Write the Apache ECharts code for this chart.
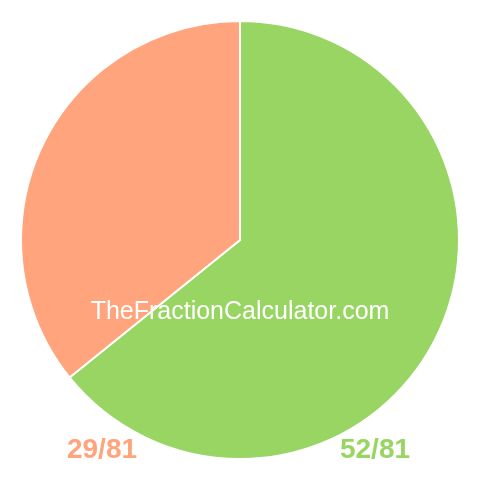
<!DOCTYPE html>
<html>
<head>
<meta charset="utf-8">
<script src="https://cdn.jsdelivr.net/npm/echarts@6/dist/echarts.min.js"></script>
<style>
  html, body { margin: 0; padding: 0; background: #fff; }
  #chart { width: 480px; height: 480px; }
</style>
</head>
<body>
<div id="chart"></div>
<script>
  // 数据
  var sliceNames = ['52/81', '29/81'];
  var sliceValues = [52, 29];
  var sliceColors = ['#98D562', '#FFA47C'];
  var watermark = 'TheFractionCalculator.com';

  var pieData = [];
  sliceNames.forEach(function(name, i) {
    pieData.push({
      name: name,
      value: sliceValues[i],
      itemStyle: { color: sliceColors[i] }
    });
  });

  var chart = echarts.init(document.getElementById('chart'));
  chart.setOption({
    animation: false,
    graphic: [{
      type: 'text',
      z: 10,
      x: 240,
      y: 312,
      style: {
        text: watermark,
        fill: '#fff',
        font: '25px "Liberation Sans", Arial, sans-serif',
        textAlign: 'center',
        textVerticalAlign: 'middle'
      }
    }, {
      type: 'text',
      x: 102,
      y: 450,
      style: {
        text: sliceNames[1],
        fill: sliceColors[1],
        font: 'bold 28px "Liberation Sans", Arial, sans-serif',
        textAlign: 'center',
        textVerticalAlign: 'middle'
      }
    }, {
      type: 'text',
      x: 375,
      y: 450,
      style: {
        text: sliceNames[0],
        fill: sliceColors[0],
        font: 'bold 28px "Liberation Sans", Arial, sans-serif',
        textAlign: 'center',
        textVerticalAlign: 'middle'
      }
    }],
    series: [{
      type: 'pie',
      center: [240, 240],
      radius: 219,
      startAngle: 90,
      clockwise: true,
      silent: true,
      label: { show: false },
      labelLine: { show: false },
      itemStyle: {
        borderColor: '#fff',
        borderWidth: 2
      },
      data: pieData
    }]
  });
</script>
</body>
</html>
